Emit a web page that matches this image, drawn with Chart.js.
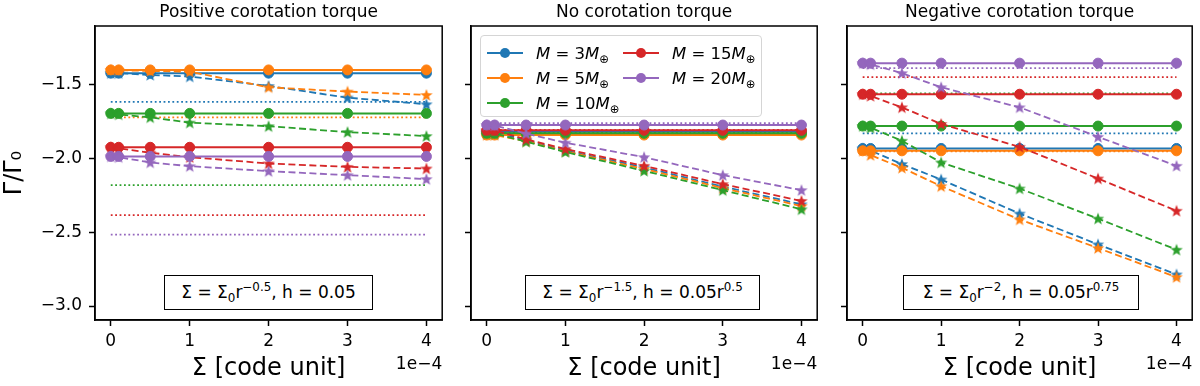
<!DOCTYPE html>
<html>
<head>
<meta charset="utf-8">
<script src="https://cdn.jsdelivr.net/npm/chart.js@4.4.1/dist/chart.umd.min.js"></script>
<style>
    body { margin: 0; background: #fff; font-family: 'DejaVu Sans', sans-serif; }
    #wrap { position: relative; width: 1200px; height: 386px; overflow: hidden; }
    #wrap canvas { position: absolute; top: 0; }
    .note { position: absolute; top: 275px; height: 35px; box-sizing: border-box; border: 1.5px solid #000;
            background: #fff; font-size: 17px; line-height: 32px; text-align: center; white-space: nowrap; color: #000; }
    .note sub, .note sup, .lab sub { font-size: 70%; line-height: 0; }
    #legend { position: absolute; left: 480px; top: 35px; width: 282px; height: 82px; box-sizing: border-box;
              border: 1px solid #d5d5d5; border-radius: 4px; background: rgba(255,255,255,0.8); }
    #legend .item { position: absolute; height: 24px; display: flex; align-items: center; white-space: nowrap; }
    #legend svg { margin-right: 13px; }
    #legend .lab { font-size: 16.5px; color: #000; }
</style>
</head>
<body>
<div id="wrap">
    <canvas id="chartPos" width="450" height="386" style="left:0px"></canvas>
    <canvas id="chartNone" width="375" height="386" style="left:450px"></canvas>
    <canvas id="chartNeg" width="375" height="386" style="left:825px"></canvas>
    <div id="legend"></div>
    <div class="note" style="left:164px;width:209px">&Sigma; = &Sigma;<sub>0</sub>r<sup>&minus;0.5</sup>, h = 0.05</div>
    <div class="note" style="left:525px;width:235px">&Sigma; = &Sigma;<sub>0</sub>r<sup>&minus;1.5</sup>, h = 0.05r<sup>0.5</sup></div>
    <div class="note" style="left:903px;width:236px">&Sigma; = &Sigma;<sub>0</sub>r<sup>&minus;2</sup>, h = 0.05r<sup>0.75</sup></div>
</div>
<script>
// surface density, in units of 1e-4 code units
const sigma = [0, 0.1, 0.5, 1, 2, 3, 4];
const masses = [3, 5, 10, 15, 20];
const xTicks = [0, 1, 2, 3, 4];
const yTicks = [-3.0, -2.5, -2.0, -1.5];

// positive corotation torque
const posSolid = [
    [-1.42, -1.42, -1.42, -1.42, -1.42, -1.42, -1.42],
    [-1.398, -1.398, -1.398, -1.398, -1.398, -1.398, -1.398],
    [-1.693, -1.693, -1.693, -1.693, -1.693, -1.693, -1.693],
    [-1.923, -1.923, -1.923, -1.923, -1.923, -1.923, -1.923],
    [-1.985, -1.985, -1.985, -1.985, -1.985, -1.985, -1.985]
];
const posDashed = [
    [-1.42, -1.42, -1.432, -1.443, -1.507, -1.586, -1.631],
    [-1.398, -1.40, -1.405, -1.41, -1.516, -1.545, -1.568],
    [-1.693, -1.70, -1.72, -1.756, -1.78, -1.82, -1.847],
    [-1.923, -1.93, -1.96, -1.99, -2.033, -2.056, -2.067],
    [-1.985, -1.99, -2.026, -2.051, -2.085, -2.112, -2.139]
];
const posRef = [-1.615, -1.72, -2.18, -2.384, -2.516];

// no corotation torque
const noneSolid = [
    [-1.817, -1.817, -1.817, -1.817, -1.817, -1.817, -1.817],
    [-1.84, -1.84, -1.84, -1.84, -1.84, -1.84, -1.84],
    [-1.828, -1.828, -1.828, -1.828, -1.828, -1.828, -1.828],
    [-1.808, -1.808, -1.808, -1.808, -1.808, -1.808, -1.808],
    [-1.772, -1.772, -1.772, -1.772, -1.772, -1.772, -1.772]
];
const noneDashed = [
    [-1.817, -1.82, -1.875, -1.945, -2.06, -2.19, -2.31],
    [-1.84, -1.84, -1.882, -1.95, -2.07, -2.2, -2.322],
    [-1.828, -1.83, -1.885, -1.955, -2.083, -2.214, -2.344],
    [-1.808, -1.81, -1.869, -1.935, -2.049, -2.173, -2.287],
    [-1.772, -1.775, -1.83, -1.892, -1.99, -2.112, -2.214]
];
const noneRef = [-1.815, -1.835, -1.825, -1.805, -1.76];

// negative corotation torque
const negSolid = [
    [-1.931, -1.931, -1.931, -1.931, -1.931, -1.931, -1.931],
    [-1.947, -1.947, -1.947, -1.947, -1.947, -1.947, -1.947],
    [-1.779, -1.779, -1.779, -1.779, -1.779, -1.779, -1.779],
    [-1.563, -1.563, -1.563, -1.563, -1.563, -1.563, -1.563],
    [-1.352, -1.352, -1.352, -1.352, -1.352, -1.352, -1.352]
];
const negDashed = [
    [-1.931, -1.945, -2.037, -2.142, -2.373, -2.582, -2.786],
    [-1.947, -1.976, -2.062, -2.187, -2.413, -2.607, -2.804],
    [-1.779, -1.79, -1.879, -2.026, -2.203, -2.407, -2.618],
    [-1.563, -1.575, -1.652, -1.765, -1.92, -2.135, -2.354],
    [-1.352, -1.36, -1.42, -1.516, -1.652, -1.852, -2.049]
];
const negRef = [-1.829, -1.95, -1.557, -1.447, -1.386];

const colors = ['#1f77b4', '#ff7f0e', '#2ca02c', '#d62728', '#9467bd'];
const FONT = 'DejaVu Sans';

function starImage(color) {
    var c = document.createElement('canvas');
    c.width = 14; c.height = 14;
    var g = c.getContext('2d');
    g.beginPath();
    for (var k = 0; k < 10; k++) {
        var r = k % 2 ? 2.7 : 6.5;
        var a = -Math.PI / 2 + k * Math.PI / 5;
        g.lineTo(7 + r * Math.cos(a), 7.5 + r * Math.sin(a));
    }
    g.closePath();
    g.fillStyle = color;
    g.fill();
    return c;
}
const stars = colors.map(starImage);

function pts(vals) {
    return sigma.map(function (x, i) { return { x: x, y: vals[i] }; });
}

const decor = {
    id: 'decor',
    afterDatasetsDraw(chart) {
        const ctx = chart.ctx, a = chart.chartArea;
        ctx.save();
        ctx.strokeStyle = '#000';
        ctx.lineWidth = 1.5;
        ctx.strokeRect(a.left, a.top, a.right - a.left, a.bottom - a.top);
        ctx.restore();
    },
    afterDraw(chart, args, opts) {
        const ctx = chart.ctx, a = chart.chartArea;
        ctx.save();
        ctx.fillStyle = '#000';
        ctx.font = '17px "DejaVu Sans"';
        ctx.textAlign = 'center';
        ctx.textBaseline = 'middle';
        ctx.fillText(opts.title, (a.left + a.right) / 2, 13);
        ctx.textAlign = 'right';
        ctx.fillText('1e\u22124', a.right, 365);
        ctx.restore();
    }
};

function makeChart(id, title, solid, dashed, ref, axisW, padRight, first) {
    var datasets = [];
    masses.forEach(function (m, i) {
        datasets.push({
            label: 'M = ' + m, data: pts(solid[i]),
            borderColor: colors[i], backgroundColor: colors[i], borderWidth: 2,
            pointStyle: 'circle', pointRadius: 5, pointBorderWidth: 1
        });
        datasets.push({
            data: pts(dashed[i]),
            borderColor: colors[i], backgroundColor: colors[i], borderWidth: 1.8, borderDash: [7, 3.5],
            pointStyle: stars[i], pointRadius: 6
        });
        datasets.push({
            data: sigma.map(function (x) { return { x: x, y: ref[i] }; }),
            borderColor: colors[i], borderWidth: 1.8, borderDash: [1.8, 2.6], pointRadius: 0
        });
    });
    datasets.forEach(function (d, k) { d.order = -k; d.tension = 0; });

    return new Chart(document.getElementById(id).getContext('2d'), {
        type: 'line',
        data: { datasets: datasets },
        plugins: [decor],
        options: {
            responsive: false,
            animation: false,
            events: [],
            layout: { padding: { top: 26, right: padRight, left: 0, bottom: 0 } },
            plugins: {
                legend: { display: false },
                tooltip: { enabled: false },
                decor: { title: title }
            },
            scales: {
                x: {
                    type: 'linear', min: -0.2, max: 4.2,
                    afterBuildTicks: function (s) { s.ticks = xTicks.map(function (v) { return { value: v }; }); },
                    afterFit: function (s) { s.height = 66; },
                    ticks: { color: '#000', font: { family: FONT, size: 17 }, padding: 5, maxRotation: 0,
                             callback: function (v) { return String(v); } },
                    grid: { drawOnChartArea: false, drawTicks: true, tickLength: 6, tickWidth: 1.5, tickColor: '#000' },
                    border: { color: '#000', width: 1.5 },
                    title: { display: true, text: '\u03A3 [code unit]', color: '#000',
                             font: { family: FONT, size: 24 }, padding: { top: 0, bottom: 3 } }
                },
                y: {
                    type: 'linear', min: -3.095, max: -1.10,
                    afterBuildTicks: function (s) { s.ticks = yTicks.map(function (v) { return { value: v }; }); },
                    afterFit: function (s) { s.width = axisW; },
                    ticks: { display: first, color: '#000', font: { family: FONT, size: 17 }, padding: 7,
                             callback: function (v) { return v.toFixed(1).replace('-', '\u2212'); } },
                    grid: { drawOnChartArea: false, drawTicks: true, tickLength: 6, tickWidth: 1.5, tickColor: '#000' },
                    border: { color: '#000', width: 1.5 },
                    title: { display: first, text: '\u0393/\u0393\u2080', color: '#000',
                             font: { family: FONT, size: 24 }, padding: { top: 0, bottom: 0 } }
                }
            }
        }
    });
}

makeChart('chartPos', 'Positive corotation torque', posSolid, posDashed, posRef, 95, 7, true);
makeChart('chartNone', 'No corotation torque', noneSolid, noneDashed, noneRef, 21, 6, false);
makeChart('chartNeg', 'Negative corotation torque', negSolid, negDashed, negRef, 22, 5, false);

// legend inside the middle panel
var legendEl = document.getElementById('legend');
masses.forEach(function (m, i) {
    var col = i < 3 ? 0 : 1;
    var row = i < 3 ? i : i - 3;
    var item = document.createElement('div');
    item.className = 'item';
    item.style.left = (col ? 142 : 6) + 'px';
    item.style.top = (row * 25 + 5) + 'px';
    item.innerHTML = '<svg width="36" height="24"><line x1="0" y1="12" x2="36" y2="12" stroke="' + colors[i] +
        '" stroke-width="2"/><circle cx="18" cy="12" r="5" fill="' + colors[i] + '"/></svg>' +
        '<span class="lab"><i>M</i> = ' + m + '<i>M</i><sub>\u2295</sub></span>';
    legendEl.appendChild(item);
});
</script>
</body>
</html>
